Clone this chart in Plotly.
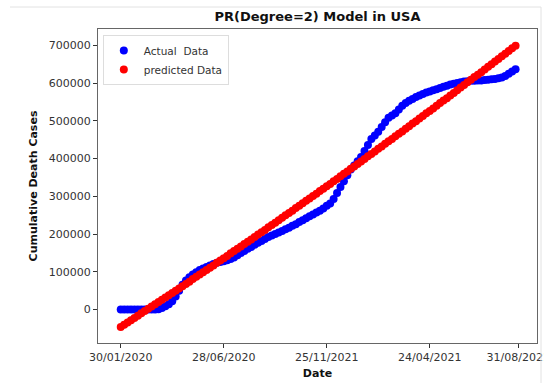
import plotly.graph_objects as go

# Days since 30/01/2020 (sampled every 5 days)
actual_k = [0, 0, 0, 0, 0, 0, 0, 0, 0, 0,
            0.3, 1, 4, 9, 14, 22, 35, 50, 66, 77,
            86, 93, 99, 105, 109, 113, 117, 121, 124, 126,
            128, 131, 134, 138, 144, 150, 155, 161, 166, 172,
            177, 182, 187, 192, 196, 200, 204, 208, 213, 217,
            222, 226, 232, 237, 242, 247, 252, 257, 262, 268,
            275, 281, 293, 309, 325, 340, 356, 371, 382, 393,
            404, 420, 436, 452, 461, 471, 484, 496, 508, 514,
            520, 530, 540, 547, 553, 558, 563, 567, 571, 575,
            578, 581, 584, 587, 590, 593, 596, 598, 600, 602,
            604, 605, 606, 606, 607, 607, 608, 609, 610, 611,
            613, 615, 619, 625, 631, 637]

predicted_k = [-46, -40, -34, -28, -22, -16, -10, -4, 2, 8,
               14, 20, 26, 32, 38, 44, 50, 56, 62, 68,
               74, 81, 87, 93, 99, 105, 111, 117, 124, 130,
               136, 142, 149, 155, 161, 167, 174, 180, 186, 192,
               199, 205, 211, 218, 224, 230, 237, 243, 250, 256,
               262, 269, 275, 282, 288, 294, 301, 307, 314, 320,
               327, 333, 340, 346, 353, 360, 366, 373, 379, 386,
               392, 399, 406, 412, 419, 426, 432, 439, 446, 452,
               459, 466, 472, 479, 486, 493, 499, 506, 513, 520,
               526, 533, 540, 547, 554, 560, 567, 574, 581, 588,
               595, 602, 609, 616, 622, 629, 636, 643, 650, 657,
               664, 671, 678, 685, 692, 699]

days = list(range(0, 5 * len(actual_k), 5))
actual = [v * 1000 for v in actual_k]
predicted = [v * 1000 for v in predicted_k]

tick_days = [0, 150, 300, 450, 579]
tick_labels = ["30/01/2020", "28/06/2020", "25/11/2021", "24/04/2021", "31/08/2021"]
y_ticks = [0, 100000, 200000, 300000, 400000, 500000, 600000, 700000]

FONT = "DejaVu Sans"

fig = go.Figure()
fig.add_trace(go.Scatter(x=days, y=actual, mode="markers", name="Actual\u00a0 Data",
                         marker=dict(color="#0000ff", size=8, line=dict(width=0))))
fig.add_trace(go.Scatter(x=days, y=predicted, mode="markers", name="predicted Data",
                         marker=dict(color="#ff0000", size=8, line=dict(width=0))))

fig.update_layout(
    width=544, height=383,
    margin=dict(l=98, r=7, t=29, b=40, autoexpand=False),
    paper_bgcolor="white", plot_bgcolor="white",
    font=dict(family=FONT, size=11, color="#333"),
    title=dict(text="<b>PR(Degree=2) Model in USA</b>", x=(98 + 537) / 2 / 544, xanchor="center",
               y=1 - 16 / 383, yanchor="middle", font=dict(family=FONT, size=13, color="#111")),
    showlegend=True,
    legend=dict(x=0.011, y=0.981, xanchor="left", yanchor="top",
                bgcolor="white", bordercolor="#dddddd", borderwidth=1,
                font=dict(family=FONT, size=10.5, color="#333"), itemwidth=30,
                tracegroupgap=0),
    xaxis=dict(range=[-33.1, 606.2], tickmode="array", tickvals=tick_days, ticktext=tick_labels,
               showgrid=False, zeroline=False, showline=True, mirror=True, linecolor="#666",
               linewidth=1, ticks="outside", ticklen=4, tickcolor="#333",
               ticklabeloverflow="allow",
               title=dict(text="<b>Date</b>", standoff=6, font=dict(family=FONT, size=11, color="#111")),
               automargin=False),
    yaxis=dict(range=[-88500, 743300], tickmode="array", tickvals=y_ticks,
               ticktext=[str(v) for v in y_ticks],
               showgrid=False, zeroline=False, showline=True, mirror=True, linecolor="#666",
               linewidth=1, ticks="outside", ticklen=4, tickcolor="#333",
               title=dict(text="<b>Cumulative Death Cases</b>", standoff=8,
                          font=dict(family=FONT, size=11, color="#111")),
               automargin=False),
    shapes=[
        dict(type="line", xref="paper", yref="paper", x0=-88 / 439, x1=443 / 439,
             y0=1 + 22 / 314, y1=1 + 22 / 314, line=dict(color="#e2e2e2", width=1)),
        dict(type="line", xref="paper", yref="paper", x0=443 / 439, x1=443 / 439,
             y0=1 + 22 / 314, y1=-40 / 314, line=dict(color="#e2e2e2", width=1)),
    ],
)

fig.write_html("out.html")
